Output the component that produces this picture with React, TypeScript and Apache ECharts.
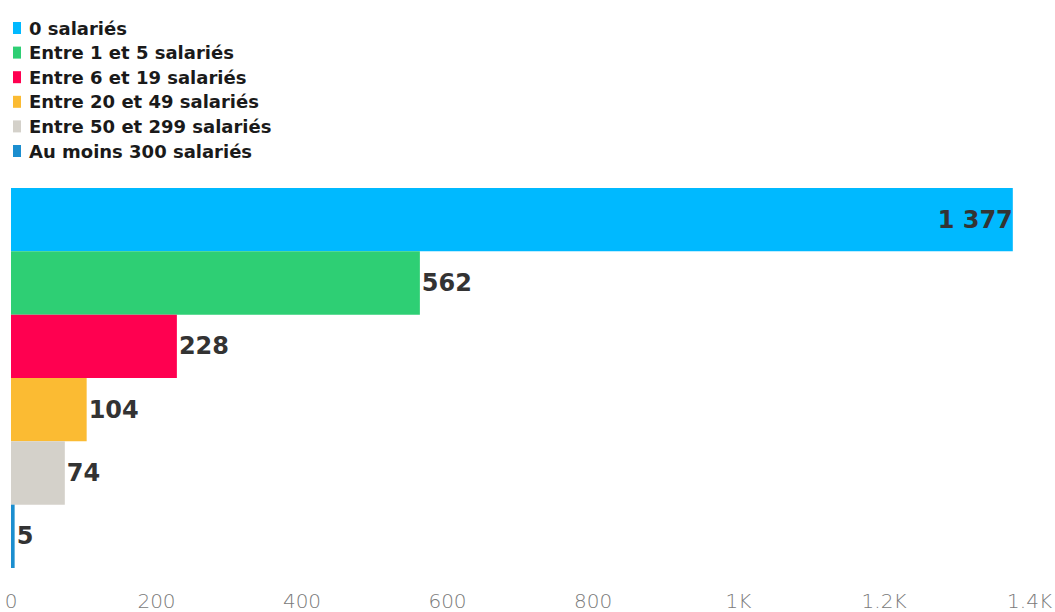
import React, { useEffect, useRef } from "react";
import * as echarts from "echarts";

const categories = [
  "0 salariés",
  "Entre 1 et 5 salariés",
  "Entre 6 et 19 salariés",
  "Entre 20 et 49 salariés",
  "Entre 50 et 299 salariés",
  "Au moins 300 salariés",
];
const values = [1377, 562, 228, 104, 74, 5];
const colors = ["#00B9FF", "#2ECF74", "#FF0050", "#FBBB33", "#D4D1CA", "#1B8ECF"];
const tickLabels: Record<number, string> = {
  0: "0", 200: "200", 400: "400", 600: "600", 800: "800", 1000: "1K", 1200: "1.2K", 1400: "1.4K",
};

function fmt(v: number): string {
  return String(v).replace(/\B(?=(\d{3})+(?!\d))/g, " ");
}

export default function App() {
  const ref = useRef<HTMLDivElement>(null);
  useEffect(() => {
    if (!ref.current) return;
    const chart = echarts.init(ref.current, undefined, { renderer: "svg" });
    const series = categories.map((name, i) => ({
      name,
      type: "bar",
      stack: "all",
      barWidth: "100%",
      itemStyle: { color: colors[i] },
      label: {
        show: true,
        position: values[i] > 1000 ? "insideRight" : "right",
        distance: values[i] > 1000 ? 0 : 2,
        formatter: (p: any) => fmt(p.value),
        fontFamily: "DejaVu Sans",
        fontWeight: "bold",
        fontSize: 24,
        color: "#333333",
      },
      data: categories.map((_, j) => (j === i ? values[i] : null)),
    }));
    chart.setOption({
      animation: false,
      legend: {
        orient: "vertical",
        left: 13,
        top: 19,
        padding: 0,
        itemWidth: 8,
        itemHeight: 12,
        itemGap: 6.6,
        icon: "rect",
        selectedMode: false,
        textStyle: {
          fontFamily: "DejaVu Sans",
          fontWeight: "bold",
          fontSize: 18,
          color: "#1a1a1a",
          padding: [0, 0, 0, 3],
        },
        data: categories,
      },
      grid: { left: 11, right: 22, top: 188, bottom: 44, containLabel: false },
      xAxis: {
        type: "value",
        min: 0,
        max: 1400,
        interval: 200,
        axisLine: { show: false },
        axisTick: { show: false },
        splitLine: { show: false },
        axisLabel: {
          margin: 23,
          fontFamily: "DejaVu Sans",
          fontWeight: "lighter",
          fontSize: 20,
          color: "#7a7a7a",
          formatter: (v: number) => tickLabels[v] ?? String(v),
        },
      },
      yAxis: {
        type: "category",
        inverse: true,
        data: categories,
        show: false,
      },
      series,
    });
    return () => chart.dispose();
  }, []);
  return (
    <div
      ref={ref}
      style={{ position: "absolute", left: 0, top: 0, width: 1055, height: 612 }}
    />
  );
}
